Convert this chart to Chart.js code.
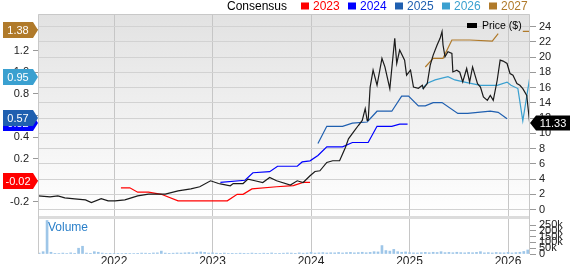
<!DOCTYPE html>
<html><head><meta charset="utf-8">
<script src="https://cdn.jsdelivr.net/npm/chart.js@4.4.0/dist/chart.umd.min.js"></script>
<style>
html,body{margin:0;padding:0;background:#fff;width:570px;height:264px;overflow:hidden;}
.w{position:absolute;left:0;width:570px;}
</style></head><body>
<div class="w" style="top:0;height:216px"><canvas id="c1"></canvas></div>
<div class="w" style="top:216px;height:48px"><canvas id="c2"></canvas></div>
<script>
// ---------- DATA ----------
const yearTicks = [2022, 2023, 2024, 2025, 2026];
const seriesNames = ['2023', '2024', '2025', '2026', '2027'];

const priceDates = [2021.23,2021.35,2021.43,2021.50,2021.60,2021.71,2021.77,2021.87,2021.94,2022.01,2022.11,2022.24,2022.35,2022.52,2022.65,2022.78,2022.87,2022.98,2023.06,2023.08,2023.18,2023.21,2023.31,2023.36,2023.43,2023.51,2023.58,2023.65,2023.79,2023.86,2023.92,2023.99,2024.04,2024.09,2024.16,2024.22,2024.29,2024.32,2024.35,2024.38,2024.43,2024.48,2024.52,2024.55,2024.57,2024.58,2024.60,2024.63,2024.67,2024.72,2024.75,2024.80,2024.85,2024.87,2024.90,2024.95,2024.97,2025.01,2025.04,2025.09,2025.13,2025.14,2025.18,2025.21,2025.24,2025.28,2025.31,2025.33,2025.34,2025.36,2025.39,2025.43,2025.44,2025.48,2025.51,2025.54,2025.58,2025.61,2025.64,2025.69,2025.72,2025.75,2025.79,2025.82,2025.85,2025.89,2025.92,2025.95,2025.99,2026.02,2026.05,2026.09,2026.12,2026.15,2026.19,2026.22];
const priceValues = [1.81,1.68,1.81,1.54,1.41,1.28,0.92,1.45,1.15,1.15,1.28,1.81,2.03,2.03,2.47,2.73,3.0,3.79,3.43,3.39,3.13,3.43,3.43,4.01,3.79,3.56,4.22,3.79,3.22,3.79,3.56,4.45,5.01,5.1,6.2,6.42,6.42,7.31,8.18,9.29,10.16,11.04,11.7,13.25,11.7,11.7,16.09,18.3,16.32,19.84,18.73,15.88,22.48,19.18,20.94,19.62,17.64,18.3,16.09,15.92,16.32,15.88,16.54,18.96,20.28,21.6,22.48,23.35,21.6,20.05,20.71,20.5,18.07,18.3,18.03,16.75,18.52,16.75,18.73,16.54,16.09,14.78,14.34,15.0,14.34,16.98,19.62,19.49,19.18,17.86,17.64,16.54,16.32,15.88,15.0,11.33];

const eps2023Dates = [2022.07,2022.16,2022.24,2022.35,2022.48,2022.65,2023.15,2023.25,2023.31,2023.40,2023.65,2023.82,2023.92,2023.99];
const eps2023 = [-0.07,-0.07,-0.11,-0.11,-0.13,-0.19,-0.19,-0.13,-0.13,-0.08,-0.06,-0.05,-0.02,-0.02];
const eps2024Dates = [2023.08,2023.33,2023.41,2023.58,2023.66,2023.86,2023.91,2023.99,2024.07,2024.16,2024.32,2024.42,2024.58,2024.67,2024.82,2024.90,2024.98];
const eps2024 = [-0.02,0.00,0.07,0.08,0.13,0.13,0.17,0.18,0.23,0.31,0.31,0.35,0.35,0.50,0.50,0.52,0.52];
const eps2025Dates = [2024.07,2024.16,2024.32,2024.42,2024.57,2024.67,2024.82,2024.92,2024.99,2025.09,2025.16,2025.24,2025.33,2025.49,2025.59,2025.82,2025.90,2025.99];
const eps2025 = [0.34,0.50,0.50,0.53,0.54,0.64,0.64,0.78,0.78,0.69,0.69,0.72,0.72,0.62,0.62,0.64,0.63,0.57];
const eps2026Dates = [2025.13,2025.18,2025.26,2025.39,2025.46,2025.56,2025.72,2025.89,2025.99,2026.03,2026.10,2026.15,2026.22];
const eps2026 = [0.85,0.90,0.93,0.96,0.93,0.91,0.88,0.88,0.91,0.88,0.85,0.55,0.95];
const eps2027Dates = [2025.16,2025.24,2025.34,2025.43,2025.61,2025.84,2025.90,2025.95,2026.15,2026.22];
const eps2027 = [1.05,1.13,1.13,1.30,1.30,1.29,1.36,null,1.38,1.38];

// volume (thousands of shares), one bar every volStep years from volStart
const volStart = 2021.24;
const volStep = 0.04;
const volumeK = [8,20,290,15,6,5,8,5,10,6,50,67,8,6,20,15,8,5,6,4,5,4,6,5,4,6,8,7,6,9,10,25,8,6,7,9,8,10,12,9,15,18,14,8,10,7,6,8,5,6,5,7,6,5,8,6,5,7,6,9,5,6,7,9,8,6,10,7,9,15,8,10,12,9,11,10,13,9,12,14,10,12,15,11,14,20,18,73,30,25,40,20,15,18,12,10,9,12,14,11,15,13,20,12,14,11,15,12,10,13,11,14,20,10,12,9,13,11,10,14,9,12,15,22,35];
const volTicksK = [0, 50, 100, 150, 200, 250];

// ---------- STYLE ----------
const FONT = '"Liberation Sans", Arial, sans-serif';
const colors = {'2023':'#ff0000','2024':'#0000ff','2025':'#1f5fb0','2026':'#3aa0d0','2027':'#b07a2a'};
const X_MIN = 2021.228, X_MAX = 2026.223;

const zip = (d, v) => d.map((x, i) => ({x: x, y: v[i]}));
const epsData = {'2023': zip(eps2023Dates, eps2023), '2024': zip(eps2024Dates, eps2024), '2025': zip(eps2025Dates, eps2025), '2026': zip(eps2026Dates, eps2026), '2027': zip(eps2027Dates, eps2027)};

Chart.defaults.font.family = FONT;
Chart.defaults.color = '#222';

function lastVal(arr) { for (let i = arr.length - 1; i >= 0; i--) if (arr[i] != null) return arr[i]; return null; }
function fixW(w) { return s => { s.width = w; s.paddingTop = 0; s.paddingBottom = 0; }; }

const mainPlugin = {
  id: 'mainDeco',
  beforeDraw(chart) {
    const {ctx, chartArea: a} = chart;
    const g = ctx.createLinearGradient(0, a.top, 0, a.bottom);
    g.addColorStop(0, '#e2e2e2');
    g.addColorStop(1, '#ffffff');
    ctx.save(); ctx.fillStyle = g; ctx.fillRect(a.left, a.top, a.right - a.left, a.bottom - a.top); ctx.restore();
  },
  afterDraw(chart) {
    const {ctx, chartArea: a, scales} = chart;
    ctx.save();
    ctx.strokeStyle = '#c8c8c8'; ctx.lineWidth = 1;
    ctx.beginPath();
    ctx.moveTo(a.left + 0.5, a.bottom); ctx.lineTo(a.left + 0.5, a.top + 0.5); ctx.lineTo(a.right - 0.5, a.top + 0.5); ctx.lineTo(a.right - 0.5, a.bottom);
    ctx.stroke();
    // legend (top)
    ctx.textBaseline = 'alphabetic'; ctx.textAlign = 'left';
    ctx.font = '12px ' + FONT;
    ctx.fillStyle = '#000';
    let x = 227;
    ctx.fillText('Consensus', x, 10);
    x = 301;
    seriesNames.forEach(n => {
      ctx.fillStyle = colors[n];
      ctx.fillRect(x, 2.5, 8, 7);
      ctx.fillText(n, x + 12, 10);
      x += 47;
    });
    // price legend
    ctx.fillStyle = '#000';
    ctx.fillRect(467, 23, 10, 5);
    ctx.font = '10.5px ' + FONT;
    ctx.textBaseline = 'middle';
    ctx.fillText('Price ($)', 482, 26);
    // left badges
    const yL = scales.yL;
    seriesNames.forEach(n => {
      const v = lastVal(epsData[n].map(p => p.y));
      const y = Math.round(yL.getPixelForValue(v)) - 1;
      ctx.fillStyle = colors[n];
      ctx.beginPath();
      ctx.moveTo(3, y - 8); ctx.lineTo(33, y - 8); ctx.lineTo(38, y); ctx.lineTo(33, y + 8); ctx.lineTo(3, y + 8);
      ctx.closePath(); ctx.fill();
      ctx.fillStyle = '#fff'; ctx.font = '11px ' + FONT; ctx.textAlign = 'center'; ctx.textBaseline = 'middle';
      ctx.fillText(v.toFixed(2), 18, y + 0.5);
    });
    // right badge
    const pv = lastVal(priceValues);
    const yp = Math.round(scales.yR.getPixelForValue(pv));
    ctx.fillStyle = '#000';
    ctx.beginPath();
    ctx.moveTo(a.right, yp); ctx.lineTo(a.right + 6, yp - 7.5); ctx.lineTo(570, yp - 7.5); ctx.lineTo(570, yp + 7.5); ctx.lineTo(a.right + 6, yp + 7.5);
    ctx.closePath(); ctx.fill();
    ctx.fillStyle = '#fff'; ctx.font = '11px ' + FONT; ctx.textAlign = 'center'; ctx.textBaseline = 'middle';
    ctx.fillText(pv.toFixed(2), 553, yp + 0.5);
    ctx.restore();
  }
};

const lineDs = (label, data, color, axis, order, w) => ({
  label, data, borderColor: color, backgroundColor: color, borderWidth: w || 1.2,
  pointRadius: 0, tension: 0, spanGaps: false, yAxisID: axis, order
});

new Chart(document.getElementById('c1'), {
  type: 'line',
  data: {
    datasets: [
      lineDs('Price ($)', zip(priceDates, priceValues), '#1a1a1a', 'yR', 0, 1.2),
      lineDs('2023', epsData['2023'], colors['2023'], 'yL', 5),
      lineDs('2024', epsData['2024'], colors['2024'], 'yL', 4),
      lineDs('2025', epsData['2025'], colors['2025'], 'yL', 3),
      lineDs('2026', epsData['2026'], colors['2026'], 'yL', 2),
      lineDs('2027', epsData['2027'], colors['2027'], 'yL', 1)
    ]
  },
  options: {
    responsive: true, maintainAspectRatio: false, animation: false, devicePixelRatio: 1,
    layout: {padding: {top: 14, left: 0, right: 0, bottom: 0}},
    plugins: {legend: {display: false}, tooltip: {enabled: false}},
    scales: {
      x: {
        type: 'linear', min: X_MIN, max: X_MAX,
        afterBuildTicks: s => { s.ticks = yearTicks.map(v => ({value: v})); },
        ticks: {display: false},
        grid: {color: '#c6c6c6', drawTicks: false},
        border: {display: false},
        afterFit: s => { s.height = 0; s.paddingLeft = 0; s.paddingRight = 0; }
      },
      yL: {
        position: 'left', min: -0.331, max: 1.541,
        ticks: {stepSize: 0.2, includeBounds: false, font: {size: 11}, color: '#222', padding: 4,
          callback: v => { const r = Math.round(v * 10) / 10; return r === 0 ? '0' : r.toFixed(1); }},
        grid: {drawOnChartArea: false, tickLength: 5, tickColor: '#999'},
        border: {display: false},
        afterFit: fixW(38)
      },
      yR: {
        position: 'right', min: -0.83, max: 25.67,
        ticks: {stepSize: 2, includeBounds: false, font: {size: 11}, color: '#222', padding: 3},
        grid: {color: '#d2d2d2', tickLength: 6, tickColor: '#999'},
        border: {display: false},
        afterFit: fixW(40)
      }
    }
  },
  plugins: [mainPlugin]
});

// ---------- VOLUME ----------
const volPlugin = {
  id: 'volDeco',
  afterDraw(chart) {
    const {ctx, chartArea: a} = chart;
    ctx.save();
    ctx.fillStyle = '#dcdcdc';
    ctx.fillRect(a.left, 0, a.right - a.left, 3);
    ctx.strokeStyle = '#c8c8c8'; ctx.lineWidth = 1;
    ctx.beginPath();
    ctx.moveTo(a.left + 0.5, 0); ctx.lineTo(a.left + 0.5, a.bottom);
    ctx.moveTo(a.right - 0.5, 0); ctx.lineTo(a.right - 0.5, a.bottom);
    ctx.stroke();
    ctx.fillStyle = '#2a7fc9'; ctx.font = '12px ' + FONT; ctx.textBaseline = 'middle'; ctx.textAlign = 'left';
    ctx.fillText('Volume', 48, 12);
    ctx.restore();
  }
};

new Chart(document.getElementById('c2'), {
  type: 'bar',
  data: {
    datasets: [{
      label: 'Volume',
      data: volumeK.map((v, i) => ({x: volStart + i * volStep, y: v})),
      backgroundColor: '#9ec6e8', borderWidth: 0, barThickness: 2
    }]
  },
  options: {
    responsive: true, maintainAspectRatio: false, animation: false, devicePixelRatio: 1,
    layout: {padding: {top: 3, left: 38, right: 0, bottom: 0}},
    plugins: {legend: {display: false}, tooltip: {enabled: false}},
    scales: {
      x: {
        type: 'linear', min: X_MIN, max: X_MAX, offset: false,
        afterBuildTicks: s => { s.ticks = yearTicks.map(v => ({value: v})); },
        ticks: {font: {size: 12}, color: '#222', padding: 0, callback: v => String(v)},
        grid: {color: '#c6c6c6', drawTicks: false, offset: false},
        border: {display: false},
        afterFit: s => { s.height = 10; s.paddingLeft = 0; s.paddingRight = 0; }
      },
      y: {
        position: 'right', min: 0, max: 303,
        afterBuildTicks: s => { s.ticks = volTicksK.map(v => ({value: v})); },
        ticks: {font: {size: 11}, color: '#222', padding: 3, autoSkip: false,
          callback: v => v === 0 ? '0' : v + 'k'},
        grid: {drawOnChartArea: false, tickLength: 6, tickColor: '#999'},
        border: {display: false},
        afterFit: fixW(40)
      }
    }
  },
  plugins: [volPlugin]
});
</script>
</body></html>
